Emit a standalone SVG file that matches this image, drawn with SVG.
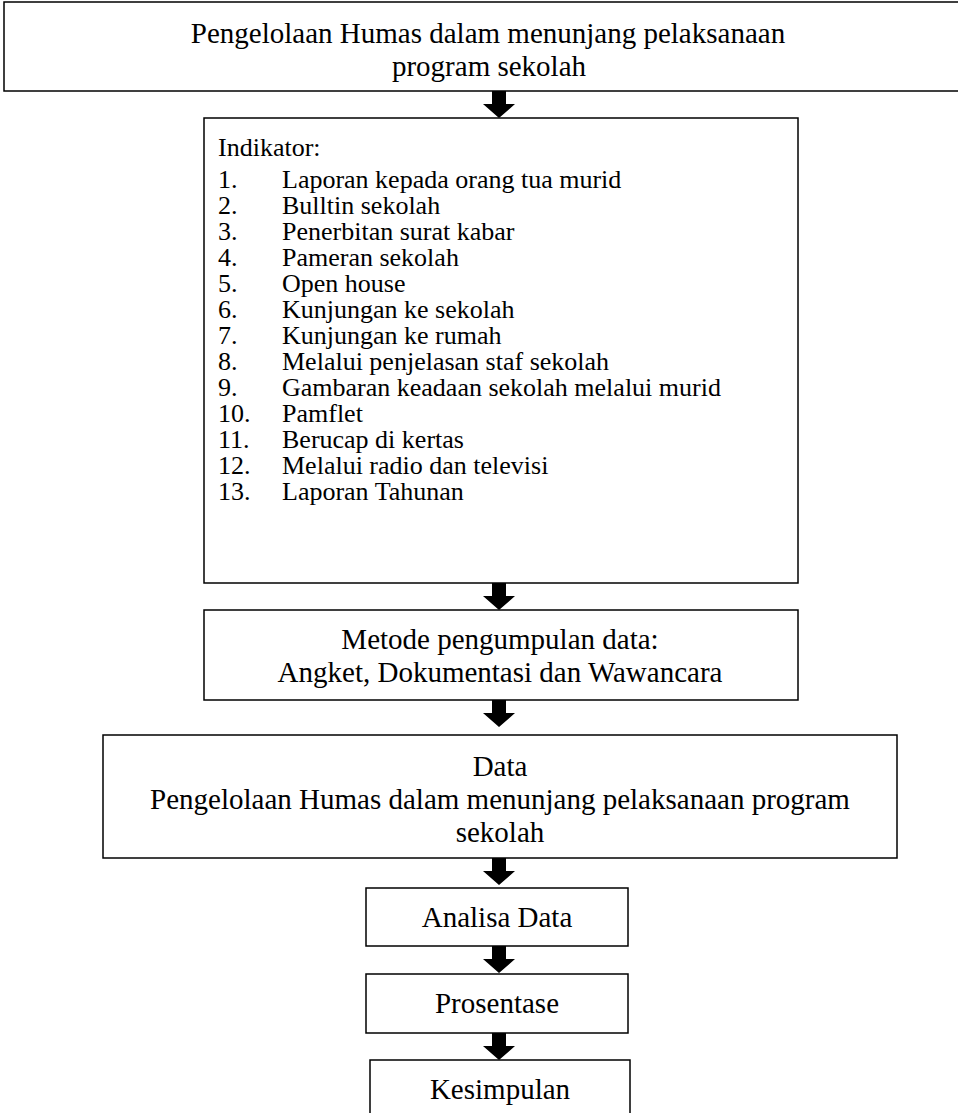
<svg xmlns="http://www.w3.org/2000/svg" width="958" height="1113" viewBox="0 0 958 1113">
<style>
.box{fill:#fff;stroke:#000;stroke-width:1.5}
.big{font-family:"Liberation Serif",serif;font-size:29px;fill:#000;text-anchor:middle}
.li{font-family:"Liberation Serif",serif;font-size:26px;fill:#000}
.arr{fill:#000}
</style>
<defs>
<path id="arrow" d="M-7,0 H7 V13 H16 L0,27 L-16,13 H-7 Z"/>
</defs>
<rect width="958" height="1113" fill="#fff"/>
<g id="node-title">
<rect class="box" x="4" y="2" width="960" height="89"/>
<text class="big" x="488" y="43">Pengelolaan Humas dalam menunjang pelaksanaan</text>
<text class="big" x="489" y="76">program sekolah</text>
</g>
<g id="node-indikator">
<rect class="box" x="204" y="118" width="594" height="465"/>
<text class="li" x="218" y="156">Indikator:</text>
<text class="li" x="218" y="188">1.</text><text class="li" x="282" y="188">Laporan kepada orang tua murid</text>
<text class="li" x="218" y="214">2.</text><text class="li" x="282" y="214">Bulltin sekolah</text>
<text class="li" x="218" y="240">3.</text><text class="li" x="282" y="240">Penerbitan surat kabar</text>
<text class="li" x="218" y="266">4.</text><text class="li" x="282" y="266">Pameran sekolah</text>
<text class="li" x="218" y="292">5.</text><text class="li" x="282" y="292">Open house</text>
<text class="li" x="218" y="318">6.</text><text class="li" x="282" y="318">Kunjungan ke sekolah</text>
<text class="li" x="218" y="344">7.</text><text class="li" x="282" y="344">Kunjungan ke rumah</text>
<text class="li" x="218" y="370">8.</text><text class="li" x="282" y="370">Melalui penjelasan staf sekolah</text>
<text class="li" x="218" y="396">9.</text><text class="li" x="282" y="396">Gambaran keadaan sekolah melalui murid</text>
<text class="li" x="218" y="422">10.</text><text class="li" x="282" y="422">Pamflet</text>
<text class="li" x="218" y="448">11.</text><text class="li" x="282" y="448">Berucap di kertas</text>
<text class="li" x="218" y="474">12.</text><text class="li" x="282" y="474">Melalui radio dan televisi</text>
<text class="li" x="218" y="500">13.</text><text class="li" x="282" y="500">Laporan Tahunan</text>
</g>
<g id="node-metode">
<rect class="box" x="204" y="610" width="594" height="90"/>
<text class="big" x="500" y="649">Metode pengumpulan data:</text>
<text class="big" x="500" y="682">Angket, Dokumentasi dan Wawancara</text>
</g>
<g id="node-data">
<rect class="box" x="103" y="735" width="794" height="123"/>
<text class="big" x="500" y="776">Data</text>
<text class="big" x="500" y="809">Pengelolaan Humas dalam menunjang pelaksanaan program</text>
<text class="big" x="500" y="842">sekolah</text>
</g>
<g id="node-analisa">
<rect class="box" x="366" y="888" width="262" height="58"/>
<text class="big" x="497" y="927">Analisa Data</text>
</g>
<g id="node-prosentase">
<rect class="box" x="366" y="974" width="262" height="59"/>
<text class="big" x="497" y="1013">Prosentase</text>
</g>
<g id="node-kesimpulan">
<rect class="box" x="370" y="1060" width="260" height="60"/>
<text class="big" x="500" y="1099">Kesimpulan</text>
</g>
<g id="connectors" class="arr">
<use href="#arrow" x="499" y="91"/>
<use href="#arrow" x="499" y="583"/>
<use href="#arrow" x="499" y="700"/>
<use href="#arrow" x="499" y="858"/>
<use href="#arrow" x="499" y="946"/>
<use href="#arrow" x="499" y="1033"/>
</g>
</svg>
